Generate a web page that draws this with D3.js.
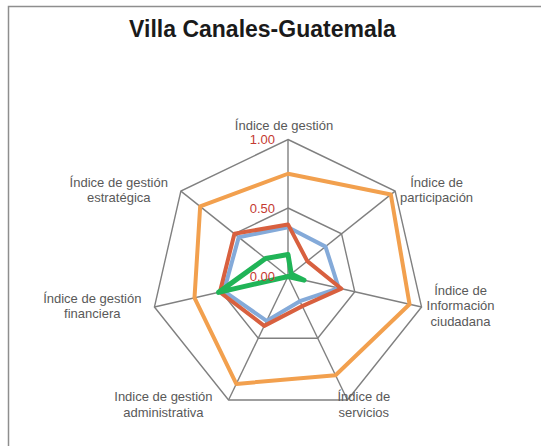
<!DOCTYPE html>
<html lang="es">
<head>
<meta charset="UTF-8">
<title>Villa Canales-Guatemala</title>
<style>
  body { margin: 0; background: #fff; }
  svg { display: block; }
  .frame { fill: none; stroke: #8e8e8e; stroke-width: 1.5; }
  .title { font: bold 23px "Liberation Sans", Arial, Helvetica, sans-serif; fill: #1a1a1a; }
  .grid { fill: none; stroke: #808080; stroke-width: 1.4; }
  .tick { font: 13px "Liberation Sans", Arial, sans-serif; fill: #c43a31; }
  .cat { font: 13px "Liberation Sans", Arial, sans-serif; fill: #595959; }
  .serie { fill: none; stroke-linejoin: round; stroke-linecap: round; }
</style>
</head>
<body>
<svg width="541" height="446"></svg>
<script src="https://cdnjs.cloudflare.com/ajax/libs/d3/7.8.5/d3.min.js"></script>
<script>
// ejes, en sentido horario desde arriba
const categorias = [
  ["Índice de gestión"],
  ["Índice de", "participación"],
  ["Índice de", "Información", "ciudadana"],
  ["Índice de", "servicios"],
  ["Indice de gestión", "administrativa"],
  ["Índice de gestión", "financiera"],
  ["Índice de gestión", "estratégica"]
];

const serieAzul    = [0.36, 0.35, 0.38, 0.20, 0.36, 0.48, 0.46];
const serieRoja    = [0.38, 0.18, 0.40, 0.24, 0.40, 0.51, 0.50];
const serieNaranja = [0.75, 0.96, 0.91, 0.80, 0.87, 0.70, 0.82];
const serieVerde   = [0.16, 0.03, 0.12, 0.00, 0.00, 0.52, 0.21];

const marcas = [0, 0.5, 1];
const etiquetasMarcas = ["0.00", "0.50", "1.00"];

const series = [
  { valores: serieAzul,    color: "#84aad9", ancho: 4 },
  { valores: serieRoja,    color: "#d8603f", ancho: 4 },
  { valores: serieNaranja, color: "#f2a04e", ancho: 4 },
  { valores: serieVerde,   color: "#20b457", ancho: 5 }
];

const svg = d3.select("svg");
const cx = 288, cy = 276.5, R = 137;

svg.append("rect").attr("class", "frame")
  .attr("x", 8.5).attr("y", 6.5).attr("width", 600).attr("height", 500);

svg.append("text").attr("class", "title")
  .attr("x", 262.5).attr("y", 36.5).attr("text-anchor", "middle")
  .text("Villa Canales-Guatemala");

const n = categorias.length;
const ang = d3.scalePoint().domain(d3.range(n + 1)).range([0, 2 * Math.PI]);
const r = d3.scaleLinear().domain([0, 1]).range([0, R]);

const g = svg.append("g").attr("transform", `translate(${cx},${cy})`);

const radial = d3.lineRadial()
  .angle((d, i) => ang(i % n))
  .radius(d => r(d))
  .curve(d3.curveLinearClosed);

// anillos
g.selectAll(".anillo").data(marcas.filter(m => m > 0)).join("path")
  .attr("class", "grid")
  .attr("d", m => radial(d3.range(n).map(() => m)));

// radios
g.selectAll(".radio").data(d3.range(n)).join("line")
  .attr("class", "grid")
  .attr("x1", 0).attr("y1", 0)
  .attr("x2", i => r(1) * Math.sin(ang(i)))
  .attr("y2", i => -r(1) * Math.cos(ang(i)));

// series
g.selectAll(".serie").data(series).join("path")
  .attr("class", "serie")
  .attr("stroke", d => d.color)
  .attr("stroke-width", d => d.ancho)
  .attr("d", d => radial(d.valores));

// etiquetas de escala
g.selectAll(".tick").data(marcas).join("text")
  .attr("class", "tick")
  .attr("x", -13)
  .attr("y", m => -r(m))
  .attr("dy", "0.35em")
  .attr("text-anchor", "end")
  .text((m, i) => etiquetasMarcas[i]);

// etiquetas de categoría
const lh = 15.8;
categorias.forEach((lineas, i) => {
  const a = ang(i);
  const vx = r(1) * Math.sin(a), vy = -r(1) * Math.cos(a);
  const t = g.append("text").attr("class", "cat").attr("text-anchor", "middle");
  const spans = lineas.map(l => t.append("tspan").text(l));
  const w = d3.max(spans, s => s.node().getComputedTextLength());
  const s = Math.sin(a), c = Math.cos(a);
  let xc, yFirst;
  if (Math.abs(s) < 0.1) {
    xc = vx - 4;
    yFirst = vy - 9.5 - (lineas.length - 1) * lh;
  } else if (c < -0.8) {
    xc = s > 0 ? vx - 10 + w / 2 : vx - 16 - w / 2;
    yFirst = vy + 1.5;
  } else {
    xc = s > 0 ? vx + 5 + w / 2 : vx - 13 - w / 2;
    yFirst = vy - 1 - (lineas.length - 1) * lh / 2 + 4.5;
  }
  spans.forEach((sp, k) => sp.attr("x", xc).attr("y", yFirst + k * lh));
});
</script>
</body>
</html>
